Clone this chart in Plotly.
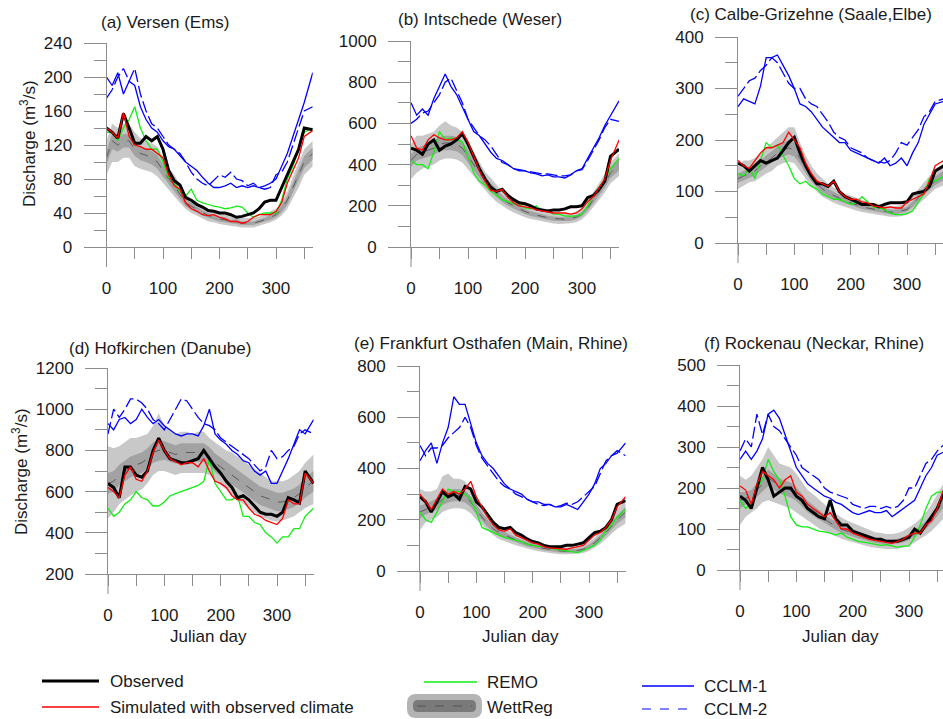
import plotly.graph_objects as go

W, H = 943, 719
FONT = "Liberation Sans, Arial, Helvetica, sans-serif"
TXT = "#1a1a1a"
AX = "#8c8c8c"

# ---------------- data (Julian day, discharge m3/s) ----------------
DAYS = list(range(0, 360, 10)) + [365]

# (a) Versen (Ems)
A_OBS = [140,135,128,157,140,122,122,130,125,130,115,90,78,73,58,55,50,47,43,42,40,40,38,35,36,38,40,45,53,55,55,70,85,100,115,140,138]
A_SIM = [140,135,128,158,130,120,118,115,115,110,105,85,72,68,52,45,42,38,37,38,35,33,30,30,28,30,35,38,38,38,42,52,75,90,105,130,137]
A_REMO = [135,135,125,140,150,165,140,125,115,115,100,82,75,65,60,68,55,52,50,48,47,45,46,48,47,40,35,38,40,40,40,55,80,95,115,135,140]
A_CCLM1 = [200,190,205,180,195,190,165,150,140,135,125,118,115,108,100,95,90,82,75,70,70,72,75,70,72,70,72,70,72,75,80,95,110,130,150,170,205]
A_CCLM2 = [175,185,200,210,195,210,180,160,145,140,130,120,115,110,100,88,80,75,72,78,85,82,88,80,78,72,75,70,68,70,85,88,100,120,140,160,165]
A_WR_MED = [105,125,120,125,125,115,110,108,105,100,90,80,72,62,52,48,44,40,37,35,33,32,30,30,28,28,28,30,32,35,38,45,55,70,85,100,110]
A_WR_LO = [85,100,100,105,105,95,92,90,88,83,75,67,60,52,45,40,37,33,30,29,27,26,25,24,23,23,23,25,27,29,32,37,45,57,70,85,95]
A_WR_HI = [125,145,140,145,145,135,128,125,122,118,105,93,85,73,62,57,52,48,45,42,40,38,36,36,34,34,34,36,38,42,45,53,65,83,100,115,125]
A_WR_LO50 = [97,115,112,117,117,107,102,100,97,92,83,74,66,57,48,44,41,37,34,32,30,29,28,27,26,26,26,28,30,32,35,41,50,64,78,93,103]
A_WR_HI50 = [113,133,128,133,133,123,118,116,113,108,97,86,78,67,56,52,47,43,40,38,36,35,32,33,30,30,30,32,34,38,41,49,60,76,92,107,117]

# (b) Intschede (Weser)
B_OBS = [480,470,450,500,520,470,490,500,520,550,500,440,380,330,290,270,280,250,230,215,210,200,185,180,175,180,180,185,195,195,200,240,250,280,320,440,475]
B_SIM = [540,480,470,520,545,530,520,520,530,560,510,440,370,320,275,270,280,240,215,200,195,190,180,175,170,165,165,165,160,165,185,220,245,285,330,420,520]
B_REMO = [420,400,400,380,460,560,520,530,520,510,440,360,320,300,270,250,230,220,210,205,190,185,200,175,175,160,160,150,150,150,160,200,250,290,330,380,430]
B_CCLM1 = [700,640,670,640,720,780,840,780,740,680,620,560,540,500,460,430,420,400,380,370,370,360,355,345,350,340,340,335,350,370,380,430,480,530,590,640,710]
B_CCLM2 = [600,620,650,660,700,740,800,820,760,700,620,580,540,520,490,450,410,400,380,375,370,365,360,355,355,350,345,345,350,370,375,420,470,520,580,620,610]
B_WR_MED = [420,450,460,470,480,500,505,505,500,480,440,400,360,320,290,260,235,215,200,185,172,162,155,148,142,138,135,135,138,145,160,190,230,270,310,360,400]
B_WR_LO = [330,360,380,390,400,420,430,430,425,410,380,345,310,275,245,220,200,182,168,155,145,136,130,124,118,114,112,112,115,120,135,160,195,230,265,310,345]
B_WR_HI = [500,540,540,550,560,590,610,590,580,560,510,460,410,365,335,300,270,250,232,215,200,190,180,172,166,162,160,160,162,172,190,225,265,310,355,410,455]
B_WR_LO50 = [390,420,428,437,447,465,470,470,465,447,410,372,335,298,270,242,219,200,186,172,160,151,144,138,132,128,126,126,128,135,149,177,214,251,288,335,372]
B_WR_HI50 = [450,480,492,503,514,535,540,540,535,514,470,428,385,342,310,278,251,230,214,198,184,173,166,158,152,148,144,144,148,155,171,203,246,289,332,385,428]

# (c) Calbe-Grizehne (Saale, Elbe)
C_OBS = [155,150,140,150,160,155,160,165,180,195,205,175,150,130,115,115,110,120,100,90,85,80,75,75,75,70,75,78,78,78,80,95,98,100,110,140,150]
C_SIM = [160,150,145,160,175,185,185,190,195,215,200,185,155,135,120,115,110,120,100,90,85,85,80,78,72,70,68,70,68,68,80,85,90,95,120,150,160]
C_REMO = [135,130,145,125,160,195,185,190,170,150,125,115,120,110,105,95,90,85,85,80,75,78,90,80,70,68,65,58,55,55,57,62,80,95,125,120,130]
C_CCLM1 = [265,280,275,270,305,360,360,365,345,325,300,270,265,255,240,225,215,205,195,195,180,175,170,165,160,155,165,150,155,165,150,175,195,230,250,270,275]
C_CCLM2 = [285,300,315,320,335,345,360,350,330,310,300,300,280,270,265,250,235,215,205,200,185,180,175,165,160,158,155,160,175,195,190,205,220,245,255,275,280]
C_WR_MED = [125,130,135,140,150,158,165,175,180,185,180,165,145,128,115,105,98,92,87,82,78,74,70,68,66,64,62,60,60,62,65,75,88,100,110,120,130]
C_WR_LO = [105,112,118,120,128,135,140,150,155,158,155,140,125,110,100,90,84,78,74,70,66,63,60,58,56,54,52,51,51,52,55,63,75,85,95,105,112]
C_WR_HI = [150,160,160,165,175,185,195,205,215,225,225,195,170,150,135,125,115,108,102,96,92,88,84,80,78,76,74,72,72,74,78,90,105,118,130,140,150]
C_WR_LO50 = [117,122,127,131,140,148,155,164,168,172,168,154,136,120,108,98,92,86,81,77,73,69,66,64,62,60,58,56,56,58,61,70,82,94,103,112,122]
C_WR_HI50 = [135,140,145,150,160,170,178,188,195,200,195,178,156,137,123,113,105,99,94,88,84,80,75,73,71,69,67,65,65,67,70,81,95,108,118,129,140]

# (d) Hofkirchen (Danube)
D_OBS = [640,620,570,720,720,680,670,700,800,860,800,760,750,740,740,750,760,800,760,720,690,650,620,570,580,560,530,500,490,490,480,500,570,560,545,700,640]
D_SIM = [620,600,570,680,720,660,650,700,790,850,800,760,745,730,740,740,720,760,700,650,640,620,580,560,560,520,490,480,460,450,440,470,560,540,540,690,640]
D_REMO = [520,480,500,540,560,600,570,560,530,530,550,580,590,600,610,620,630,650,760,640,600,560,560,580,480,480,450,440,400,380,350,380,380,420,420,480,520]
D_CCLM1 = [930,900,950,960,930,950,1000,960,930,950,920,900,880,870,880,880,870,920,1000,880,850,830,800,780,750,740,700,680,700,640,640,700,760,830,900,880,950]
D_CCLM2 = [880,1000,960,1000,1050,1050,1030,1000,950,930,900,950,1000,1050,1040,1000,960,930,920,900,860,840,820,800,780,760,730,700,720,800,760,770,800,820,880,900,880]
D_WR_MED = [640,650,680,700,720,730,740,760,790,800,800,790,780,790,790,790,790,790,770,740,720,700,680,660,640,620,600,580,570,560,550,550,560,570,590,620,650]
D_WR_LO = [470,500,540,560,580,600,610,640,680,700,700,690,680,690,690,690,690,690,680,650,630,610,580,560,540,520,500,480,470,460,455,460,470,480,500,520,540]
D_WR_HI = [820,810,820,840,860,860,870,880,920,980,920,900,880,890,890,880,890,890,860,840,820,800,790,770,750,730,710,690,670,650,650,650,660,680,700,740,780]
D_WR_LO50 = [590,600,630,650,670,680,690,710,740,750,755,745,735,745,745,745,745,745,725,695,675,655,635,615,595,575,555,535,525,515,505,505,515,525,545,570,600]
D_WR_HI50 = [690,700,730,750,770,780,790,810,840,850,845,835,825,835,835,835,835,835,815,785,765,745,725,705,685,665,645,625,615,605,595,595,605,615,635,670,700]

# (e) Frankfurt Osthafen (Main, Rhine)
E_OBS = [290,270,230,270,310,290,300,280,330,320,270,250,220,190,170,165,170,150,140,125,115,110,100,95,95,95,100,100,105,110,130,150,155,170,200,260,275]
E_SIM = [300,270,240,280,320,300,310,300,320,350,290,250,210,180,160,155,165,140,130,120,110,105,95,90,88,85,85,90,95,100,120,140,150,170,200,250,290]
E_REMO = [230,200,190,230,270,320,310,310,300,280,230,170,160,150,140,130,125,120,115,105,100,95,100,90,85,82,80,75,72,80,90,100,120,160,180,210,240]
E_CCLM1 = [430,470,500,420,500,560,680,650,650,570,500,450,420,400,370,340,320,310,300,280,270,270,260,260,250,250,260,250,240,270,300,340,400,420,450,460,500]
E_CCLM2 = [490,450,480,480,490,520,540,560,600,560,490,440,410,380,350,330,320,300,290,280,270,260,255,260,250,255,265,260,270,290,310,330,380,430,450,470,450]
E_WR_MED = [230,240,250,260,280,290,295,295,290,270,240,210,185,165,150,140,130,120,112,105,98,92,88,84,80,78,77,78,80,85,95,110,130,150,175,200,230]
E_WR_LO = [160,190,200,210,230,240,245,245,240,225,200,180,160,140,125,115,108,100,93,87,82,77,73,70,67,65,64,65,67,70,78,90,105,125,145,165,185]
E_WR_HI = [320,310,310,320,370,380,360,360,350,320,290,250,220,195,178,165,155,143,133,125,117,110,105,100,96,93,92,93,96,102,113,130,155,178,205,240,280]
E_WR_LO50 = [205,220,230,240,258,267,272,272,267,250,222,195,172,153,139,130,121,111,104,97,91,85,81,78,74,72,71,72,74,78,87,101,119,138,161,184,210]
E_WR_HI50 = [255,262,272,283,305,316,320,320,315,293,260,227,200,178,162,151,140,130,121,114,106,100,95,91,87,85,84,85,87,92,103,119,141,163,190,217,250]

# (f) Rockenau (Neckar, Rhine)
F_OBS = [180,170,150,200,250,220,180,190,200,200,180,170,150,140,130,125,170,125,110,110,95,90,85,80,75,75,70,70,70,75,80,100,90,110,130,150,200]
F_SIM = [205,195,160,210,240,230,220,200,220,230,190,180,160,150,140,130,140,120,100,100,90,85,80,75,72,70,68,65,70,75,85,90,90,110,120,150,210]
F_REMO = [170,150,160,200,220,270,240,220,180,130,110,105,105,100,95,93,90,85,90,80,75,70,68,65,62,60,62,58,55,58,58,80,110,150,180,190,190]
F_CCLM1 = [270,290,270,290,320,380,390,370,330,290,250,230,210,200,190,180,175,165,160,150,140,135,140,145,140,140,145,130,140,150,160,170,200,230,250,280,290]
F_CCLM2 = [290,320,300,380,330,380,350,340,320,300,280,250,240,230,220,200,190,185,180,175,160,155,150,155,155,150,155,150,155,170,200,200,230,260,270,290,310]
F_WR_MED = [170,175,180,195,210,225,215,205,200,195,185,170,155,145,135,125,115,108,100,95,90,85,80,76,72,70,68,68,70,74,80,88,98,110,125,145,175]
F_WR_LO = [110,130,140,150,165,170,165,160,155,150,140,130,120,110,102,95,88,82,76,72,68,64,60,57,54,52,51,51,52,55,60,67,75,85,95,110,130]
F_WR_HI = [230,220,230,250,270,300,280,260,255,250,235,215,195,185,172,160,148,138,128,121,115,108,102,97,92,90,88,88,90,95,103,113,125,140,160,185,220]
F_WR_LO50 = [150,160,165,178,192,205,196,187,182,177,168,155,141,132,123,114,105,98,91,87,82,77,73,69,66,64,62,62,64,67,73,80,89,100,114,132,158]
F_WR_HI50 = [190,190,195,212,228,245,234,223,218,213,202,185,169,158,147,136,125,118,109,103,98,93,87,83,78,76,74,74,76,81,87,96,107,120,136,158,192]

TITLES = ["(a) Versen (Ems)", "(b) Intschede (Weser)", "(c) Calbe-Grizehne (Saale,Elbe)",
          "(d) Hofkirchen (Danube)", "(e) Frankfurt Osthafen (Main, Rhine)", "(f) Rockenau (Neckar, Rhine)"]
Y_RANGES = [(0, 240), (0, 1000), (0, 400), (200, 1200), (0, 800), (0, 500)]
Y_MAJOR = [40, 200, 100, 200, 200, 100]
Y_MINOR = [20, 100, 50, 100, 100, 50]
X_TICKS = [0, 100, 200, 300]
X_MINOR = [50, 150, 250, 350]
LEGEND_NAMES = ["Observed", "Simulated with observed climate", "REMO", "WettReg", "CCLM-1", "CCLM-2"]

PANELS = [
    (A_OBS, A_SIM, A_REMO, A_CCLM1, A_CCLM2, A_WR_MED, A_WR_LO, A_WR_HI, A_WR_LO50, A_WR_HI50),
    (B_OBS, B_SIM, B_REMO, B_CCLM1, B_CCLM2, B_WR_MED, B_WR_LO, B_WR_HI, B_WR_LO50, B_WR_HI50),
    (C_OBS, C_SIM, C_REMO, C_CCLM1, C_CCLM2, C_WR_MED, C_WR_LO, C_WR_HI, C_WR_LO50, C_WR_HI50),
    (D_OBS, D_SIM, D_REMO, D_CCLM1, D_CCLM2, D_WR_MED, D_WR_LO, D_WR_HI, D_WR_LO50, D_WR_HI50),
    (E_OBS, E_SIM, E_REMO, E_CCLM1, E_CCLM2, E_WR_MED, E_WR_LO, E_WR_HI, E_WR_LO50, E_WR_HI50),
    (F_OBS, F_SIM, F_REMO, F_CCLM1, F_CCLM2, F_WR_MED, F_WR_LO, F_WR_HI, F_WR_LO50, F_WR_HI50),
]

# ---------------- layout geometry (pixels) ----------------
# x pixel of day 0, x pixel of day 300, y pixel of top value, y pixel of bottom value
BOXES = [(106.5, 276, 43, 247), (411, 582, 41, 247), (738, 907, 37, 243),
         (108, 277, 368, 574), (420, 589, 366, 571), (740, 909, 365, 570)]
TITLE_POS = [(165, 22), (480, 19), (811, 15), (160, 348), (491, 343), (814, 343)]

C_OBS_COL, C_SIM_COL, C_REMO_COL, C_BLUE = "#000000", "#ff0000", "#11ee11", "#0000ff"
C_OUT, C_IN, C_MED = "#c8c8c8", "#a2a2a2", "#5a5a5a"


def px(x):
    return x / W


def py(y):
    return 1 - y / H


fig = go.Figure()
layout = dict(width=W, height=H, margin=dict(l=0, r=0, t=0, b=0),
              paper_bgcolor="white", plot_bgcolor="white", showlegend=False,
              font=dict(family=FONT, size=17, color=TXT))
shapes, annotations = [], []

for i, (obs, sim, remo, c1, c2, med, lo, hi, lo50, hi50) in enumerate(PANELS):
    n = i + 1
    xa = "x" if n == 1 else f"x{n}"
    ya = "y" if n == 1 else f"y{n}"
    x0, x300, ytop, ybot = BOXES[i]
    scale = (x300 - x0) / 300.0
    xr = min(x0 + 365 * scale, W)
    xmax = (xr - x0) / scale

    def add(y, **kw):
        fig.add_trace(go.Scatter(x=DAYS, y=y, mode="lines", xaxis=xa, yaxis=ya,
                                 hoverinfo="skip", **kw))

    add(lo, line=dict(width=0, color="rgba(0,0,0,0)"))
    add(hi, line=dict(width=0, color="rgba(0,0,0,0)"), fill="tonexty", fillcolor=C_OUT)
    add(lo50, line=dict(width=0, color="rgba(0,0,0,0)"))
    add(hi50, line=dict(width=0, color="rgba(0,0,0,0)"), fill="tonexty", fillcolor=C_IN)
    add(med, line=dict(width=1, color=C_MED, dash="dash"))
    add(c2, line=dict(width=1.3, color=C_BLUE, dash="12px,4px"))
    add(c1, line=dict(width=1.3, color=C_BLUE))
    add(remo, line=dict(width=1.3, color=C_REMO_COL))
    add(obs, line=dict(width=3, color=C_OBS_COL))
    add(sim, line=dict(width=1.3, color=C_SIM_COL))

    tickfont = dict(family=FONT, size=17, color=TXT)
    layout["xaxis" if n == 1 else f"xaxis{n}"] = dict(
        domain=[px(x0), px(xr)], range=[0, xmax], anchor=ya,
        showline=True, linecolor=AX, linewidth=1, showgrid=False, zeroline=False,
        ticks="outside", ticklen=11, tickcolor=AX, tickwidth=1,
        tickmode="array", tickvals=X_TICKS,
        minor=dict(tickmode="array", tickvals=X_MINOR, ticks="outside", ticklen=11,
                   tickcolor=AX, tickwidth=1, showgrid=False),
        tickfont=tickfont, ticklabelstandoff=15, automargin=False, fixedrange=True)
    ymin, ymax = Y_RANGES[i]
    layout["yaxis" if n == 1 else f"yaxis{n}"] = dict(
        domain=[py(ybot), py(ytop)], range=[ymin, ymax], anchor=xa,
        showline=True, linecolor=AX, linewidth=1, showgrid=False, zeroline=False,
        ticks="outside", ticklen=22, tickcolor=AX, tickwidth=1,
        tick0=ymin, dtick=Y_MAJOR[i],
        minor=dict(tick0=ymin, dtick=Y_MINOR[i], ticks="outside", ticklen=12,
                   tickcolor=AX, tickwidth=1, showgrid=False),
        tickfont=tickfont, ticklabelstandoff=8, automargin=False, fixedrange=True)

    # y-axis line continues below the x axis
    shapes.append(dict(type="line", xref="paper", yref="paper",
                       x0=px(x0), x1=px(x0), y0=py(ybot), y1=py(ybot + 20),
                       line=dict(color=AX, width=1)))
    tx, ty = TITLE_POS[i]
    annotations.append(dict(text=TITLES[i], x=px(tx), y=py(ty), xref="paper", yref="paper",
                            xanchor="center", yanchor="middle", showarrow=False,
                            font=dict(family=FONT, size=17, color=TXT)))

# axis titles
for (x, y) in [(28, 144), (20, 472)]:
    annotations.append(dict(text="Discharge (m<sup>3</sup>/s)", x=px(x), y=py(y),
                            xref="paper", yref="paper", textangle=-90, showarrow=False,
                            xanchor="center", yanchor="middle",
                            font=dict(family=FONT, size=17, color=TXT)))
for (x, y) in [(208, 636), (520, 636), (840, 636)]:
    annotations.append(dict(text="Julian day", x=px(x), y=py(y), xref="paper", yref="paper",
                            showarrow=False, xanchor="center", yanchor="middle",
                            font=dict(family=FONT, size=17, color=TXT)))


# ---------------- legend (drawn at the bottom) ----------------
def rounded(x0, y0, x1, y1, r):
    rx, ry = r / W, r / H
    X0, X1, Y0, Y1 = px(x0), px(x1), py(y0), py(y1)
    return (f"M{X0 + rx},{Y0} L{X1 - rx},{Y0} Q{X1},{Y0} {X1},{Y0 - ry} "
            f"L{X1},{Y1 + ry} Q{X1},{Y1} {X1 - rx},{Y1} L{X0 + rx},{Y1} "
            f"Q{X0},{Y1} {X0},{Y1 + ry} L{X0},{Y0 - ry} Q{X0},{Y0} {X0 + rx},{Y0} Z")


def leg_line(x0, x1, y, color, width, dash="solid"):
    shapes.append(dict(type="line", xref="paper", yref="paper", x0=px(x0), x1=px(x1),
                       y0=py(y), y1=py(y), line=dict(color=color, width=width, dash=dash)))


def leg_text(x, y, s):
    annotations.append(dict(text=s, x=px(x), y=py(y), xref="paper", yref="paper",
                            showarrow=False, xanchor="left", yanchor="middle",
                            font=dict(family=FONT, size=17, color=TXT)))


leg_line(42, 99, 681, C_OBS_COL, 3)
leg_text(108, 681, LEGEND_NAMES[0])
leg_line(42, 99, 707, C_SIM_COL, 1.5)
leg_text(108, 707, LEGEND_NAMES[1])
leg_line(424, 477, 682, C_REMO_COL, 1.5)
leg_text(485, 682, LEGEND_NAMES[2])
shapes.append(dict(type="path", xref="paper", yref="paper", path=rounded(407, 694, 482, 718, 9),
                   fillcolor="#b4b4b4", line=dict(width=0)))
shapes.append(dict(type="path", xref="paper", yref="paper", path=rounded(413, 700, 476, 712, 5),
                   fillcolor="#7a7a7a", line=dict(width=0)))
leg_line(417, 472, 706, "#555555", 1, "dash")
leg_text(485, 707, LEGEND_NAMES[3])
leg_line(642, 694, 686, C_BLUE, 1.5)
leg_text(702, 686, LEGEND_NAMES[4])
leg_line(642, 694, 709, "#5a5aff", 1.5, "dash")
leg_text(702, 709, LEGEND_NAMES[5])

layout["shapes"] = shapes
layout["annotations"] = annotations
fig.update_layout(**layout)
fig.write_html("out.html")
